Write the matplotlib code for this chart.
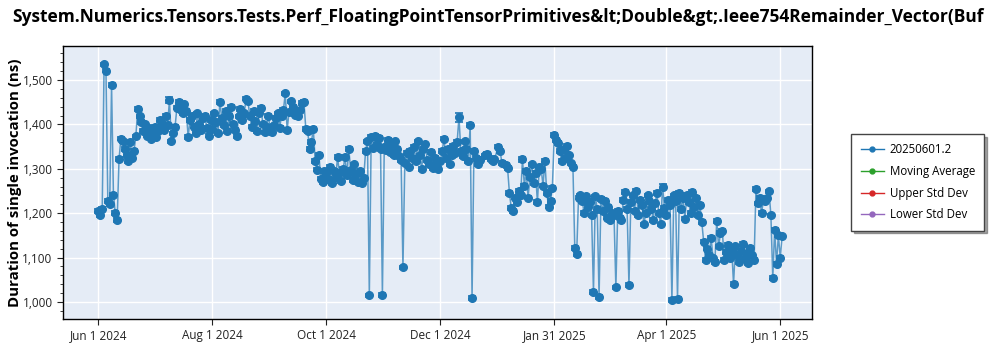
import numpy as np
import matplotlib
matplotlib.use("Agg")
import matplotlib.pyplot as plt
from matplotlib.lines import Line2D
from matplotlib.ticker import MultipleLocator, FuncFormatter

plt.rcParams["font.family"] = ["Open Sans", "DejaVu Sans"]

# daily results, one value per day from 2024-06-01 (None = no run that day)
start_date = "2024-06-01"

jun_2024 = [1205, 1195, 1210, 1535, 1521, 1228, 1220, 1489, 1242, 1200,
            1185, 1322, 1368, 1362, 1345, 1330, 1318, 1360, 1325, 1340,
            1373, 1435, 1418, 1405, 1385, 1400, 1375, 1392, 1368, 1380]
jul_2024 = [1395, 1372, 1385, 1410, 1402, 1388, 1420, 1398, 1455, 1362,
            1380, 1395, 1438, 1450, 1432, 1425, 1445, 1430, 1372, 1410,
            1418, 1395, 1380, 1425, 1400, 1388, 1415, 1420, 1392, 1375, 1410]
aug_2024 = [1390, 1425, 1405, 1380, 1451, 1415, 1398, 1430, 1385, 1420,
            1440, 1402, 1388, 1374, 1418, 1435, 1410, 1425, 1458, 1452,
            1420, 1395, 1430, 1408, 1385, 1425, 1438, 1400, 1382, 1395, 1420]
sep_2024 = [1385, 1382, 1398, 1415, 1425, 1392, 1420, 1432, 1470, 1388,
            1428, 1452, 1440, 1422, 1425, 1420, 1432, 1448, 1450, 1390,
            1385, 1345, 1360, 1390, 1318, 1298, 1332, 1278, 1270, 1295]
oct_2024 = [1290, 1278, 1305, 1268, 1295, 1282, 1326, 1290, 1272, 1300,
            1326, 1285, 1345, 1298, 1275, 1310, 1288, 1270, 1295, 1268,
            1280, 1340, 1362, 1015, 1372, 1348, 1375, 1355, 1370, 1345, 1016]
nov_2024 = [1350, 1342, 1365, 1338, 1355, 1330, 1362, 1345, 1328, 1320,
            1078, 1312, 1335, 1305, 1340, 1325, 1350, 1318, 1362, 1330,
            1300, 1345, 1355, 1320, 1310, 1338, 1302, 1325, 1315, 1300]
dec_2024 = [1318, 1340, 1368, 1325, 1345, 1310, 1330, 1352, 1335, 1360,
            1416, 1340, 1328, 1362, 1345, 1318, 1399, 1009, 1340, 1325,
            1310, 1319, None, None, 1330, 1334, None, 1322, 1318, 1321, None]
jan_2025 = [1350, 1340, 1313, None, 1308, 1302, 1246, 1212, 1205, 1235,
            1225, 1250, 1240, 1321, 1262, 1295, 1235, 1282, 1310, 1268,
            1290, 1225, 1305, 1300, 1262, 1318, 1245, 1215, 1228, 1257, 1376]
feb_2025 = [1365, 1358, 1340, 1318, 1345, 1325, 1352, 1330, 1312, 1305,
            1122, 1108, 1235, 1240, 1228, 1200, 1238, 1215, 1225, 1195,
            1023, 1238, 1210, 1011, 1232, 1205, 1228, 1190]
mar_2025 = [1215, 1185, 1200, 1195, 1033, 1205, 1190, 1185, 1230, 1248,
            1210, 1038, 1225, 1240, 1205, 1250, 1195, 1230, 1218, 1175,
            1200, 1240, 1228, 1210, 1185, 1222, 1245, 1200, 1175, 1260, 1212]
apr_2025 = [1195, 1230, 1218, 1005, 1240, 1228, 1007, 1245, 1210, 1235,
            1188, 1242, 1225, 1200, 1248, 1215, 1235, 1195, 1218, 1180,
            1136, 1095, 1120, 1105, 1145, 1098, 1090, 1183, 1125, 1155]
may_2025 = [1160, 1095, 1112, 1128, 1100, 1118, 1041, 1125, 1105, 1090,
            1115, 1130, 1098, 1110, 1088, 1122, 1105, 1095, 1254, 1222,
            1235, 1200, 1230, 1228, 1235, 1249, 1195, 1054, 1162, 1086, 1150]
jun_2025 = [1100, 1148]

# spread of the measurement (ns); a few runs were noisier
typical_err = 4.0
noisy_dates = ["2024-07-09", "2024-12-11", "2025-01-14", "2025-03-30"]
noisy_errs = [7.0, 10.0, 6.0, 6.0]

tick_dates = ["2024-06-01", "2024-08-01", "2024-10-01", "2024-12-01",
              "2025-01-31", "2025-04-01", "2025-06-01"]
tick_labels = ["Jun 1 2024", "Aug 1 2024", "Oct 1 2024", "Dec 1 2024",
               "Jan 31 2025", "Apr 1 2025", "Jun 1 2025"]

title = ("System.Numerics.Tensors.Tests.Perf_FloatingPointTensorPrimitives"
         "&lt;Double&gt;.Ieee754Remainder_Vector(Buf")
series_names = ["20250601.2", "Moving Average", "Upper Std Dev", "Lower Std Dev"]
series_colors = ["#1f77b4", "#2ca02c", "#d62728", "#9467bd"]

# ---- assemble the series ----
daily = (jun_2024 + jul_2024 + aug_2024 + sep_2024 + oct_2024 + nov_2024 +
         dec_2024 + jan_2025 + feb_2025 + mar_2025 + apr_2025 + may_2025 + jun_2025)
all_dates = np.datetime64(start_date) + np.arange(len(daily)).astype("timedelta64[D]")
keep = np.array([v is not None for v in daily])
dates = all_dates[keep]
values = np.array([v for v in daily if v is not None], dtype=float)

yerr = np.full(len(values), typical_err)
for d, e in zip(noisy_dates, noisy_errs):
    yerr[dates == np.datetime64(d)] = e

# ---- figure ----
fig = plt.figure(figsize=(10, 3.5), dpi=100)
ax = fig.add_axes([0.063, 0.089, 0.749, 0.78])
ax.set_facecolor("#e5ecf6")

c = series_colors[0]
ax.plot(dates, values, color=c, lw=1.1, alpha=0.7, zorder=2)
ax.errorbar(dates, values, yerr=yerr, fmt="o", ms=5.5, color=c,
            ecolor=c, elinewidth=1, capsize=3, capthick=1.2, zorder=3)

ax.set_xlim(np.datetime64("2024-05-13"), np.datetime64("2025-06-18"))
ax.set_ylim(962, 1577)

ax.set_xticks([np.datetime64(d) for d in tick_dates])
ax.set_xticklabels(tick_labels)
ax.yaxis.set_major_locator(MultipleLocator(100))
ax.yaxis.set_minor_locator(MultipleLocator(20))
ax.yaxis.set_major_formatter(FuncFormatter(lambda v, p: f"{v:,.0f}"))

ax.grid(True, which="major", color="white", lw=1)
ax.set_axisbelow(True)
ax.tick_params(axis="both", which="major", labelsize=8.5, colors="#222222",
               length=4, width=0.8)
ax.tick_params(axis="y", which="minor", length=2, width=0.6, color="#222222")
for s in ax.spines.values():
    s.set_color("black")
    s.set_linewidth(1)

# axis title and chart title placed on the figure
fig.text(0.015, 0.477, "Duration of single invocation (ns)", rotation=90,
         fontsize=10.8, fontweight="bold", ha="center", va="center")
fig.text(0.012, 0.95, title, fontsize=12.5, fontweight="bold", ha="left",
         va="center")

# legend shows all four traces, even those without points
handles = [Line2D([0], [0], color=col, marker="o", ms=3.5, lw=1)
           for col in series_colors]
leg = ax.legend(handles, series_names, loc="center left",
                bbox_to_anchor=(1.045, 0.5), fontsize=8.3, frameon=True,
                fancybox=False, shadow=True, edgecolor="#444444",
                borderpad=0.8, labelspacing=0.75, handlelength=2.0,
                handletextpad=0.5)
leg.get_frame().set_linewidth(1)

fig.savefig("out.png", dpi=100)
